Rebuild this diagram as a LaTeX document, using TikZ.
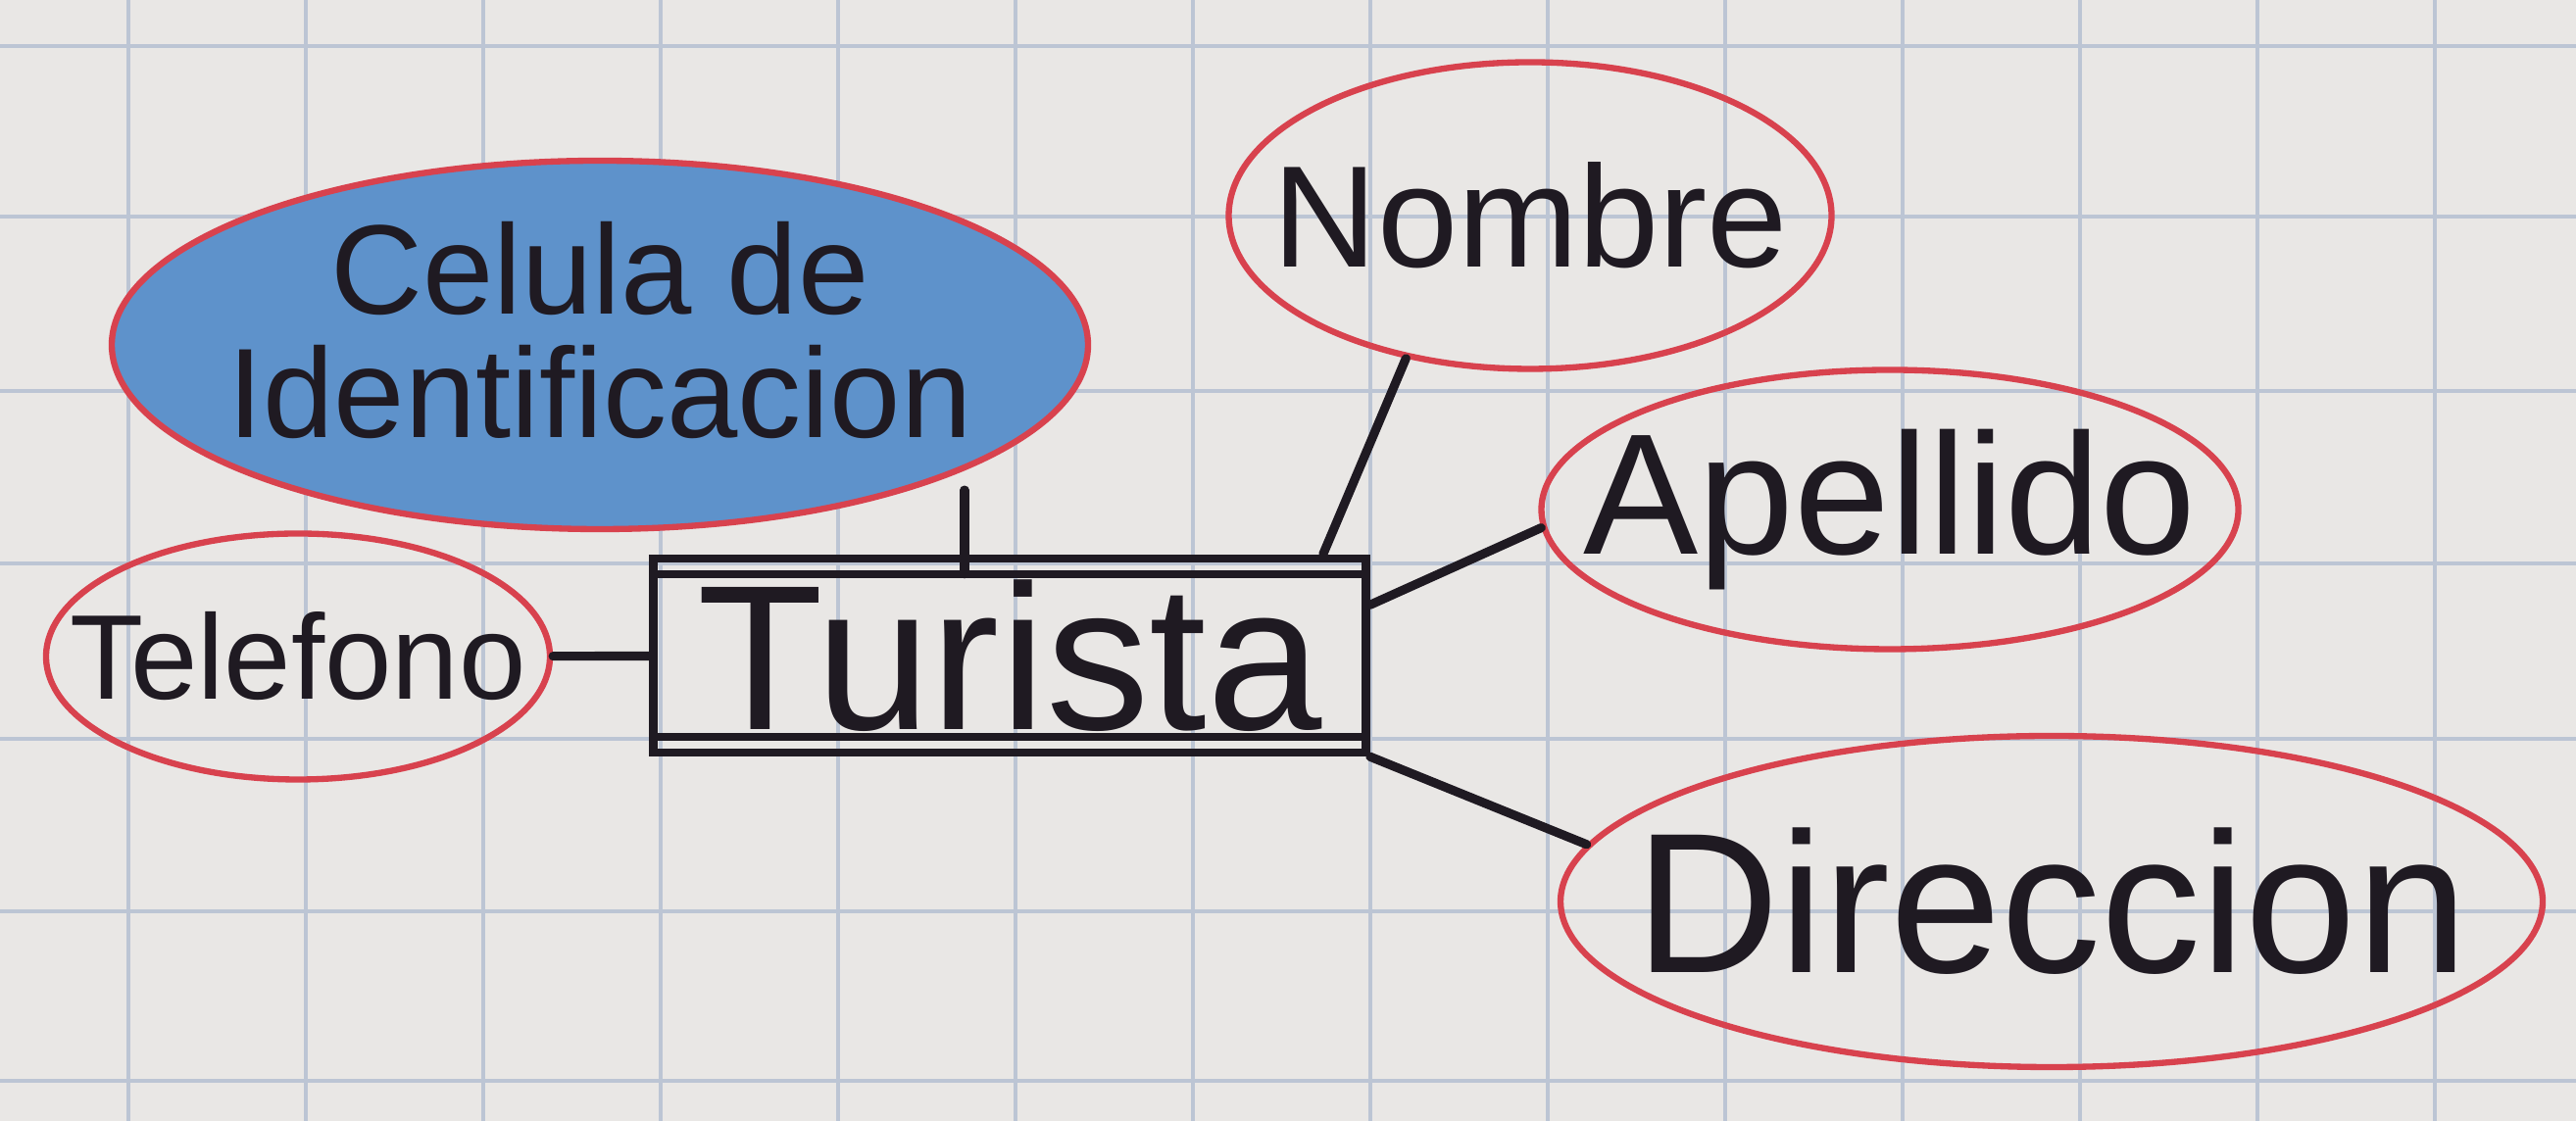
\documentclass[tikz,border=0pt]{standalone}
\usepackage{fontspec}
\setmainfont{Liberation Sans}
\usepackage{xcolor}
\usetikzlibrary{shapes.geometric}

\definecolor{paper}{HTML}{E9E7E5}
\definecolor{gridblue}{HTML}{BCC5D4}
\definecolor{pen}{HTML}{1F1A22}
\definecolor{redpen}{HTML}{D8424E}
\definecolor{crayon}{HTML}{5E92CB}

\begin{document}
\begin{tikzpicture}[
    attr/.style={ellipse, draw=redpen, line width=1.8pt, inner sep=0pt, text=pen},
    ent/.style={draw=pen, line width=2.4pt, inner sep=0pt, text=pen, minimum width=7.27cm, minimum height=1.98cm},
    link/.style={draw=pen, line width=2.6pt, line cap=round},
    gridline/.style={gridblue, line width=1.1pt}
]
    % paper with its grid
    \fill[paper] (0,0) rectangle (26.28,11.44);
    \useasboundingbox (0,0) rectangle (26.28,11.44);
    \foreach \x in {0,...,13}
        \draw[gridline] ({1.31+1.81*\x},0) -- ++(0,11.44);
    \foreach \y in {0.41,2.14,3.90,5.69,7.45,9.23,10.97}
        \draw[gridline] (0,\y) -- ++(26.28,0);

    \node[ent] (turista) at (10.30,4.75) {\fontsize{60}{60}\selectfont Turista};
    \node[attr, fill=crayon, minimum width=9.96cm, minimum height=3.76cm] (celula) at (6.12,7.92)
        {\makebox[0pt]{\raisebox{-2mm}{\fontsize{37}{30}\selectfont\begin{tabular}{@{}c@{}}Celula de\\Identificacion\end{tabular}}}};
    \node[attr, minimum width=6.15cm, minimum height=3.13cm] (nombre) at (15.61,9.24)
        {\makebox[0pt]{\fontsize{42}{42}\selectfont Nombre}};
    \node[attr, minimum width=7.11cm, minimum height=2.85cm] (apellido) at (19.28,6.24)
        {\makebox[0pt]{\fontsize{50}{50}\selectfont Apellido}};
    \node[attr, minimum width=5.14cm, minimum height=2.51cm] (telefono) at (3.04,4.74)
        {\makebox[0pt]{\fontsize{35}{35}\selectfont Telefono}};
    \node[attr, minimum width=10.02cm, minimum height=3.38cm] (direccion) at (20.93,2.24)
        {\makebox[0pt]{\fontsize{58}{58}\selectfont Direccion}};

    % second stroke of the box
    \draw[pen, line width=2.4pt] ([yshift=-2mm]turista.north west) -- ([yshift=-2mm]turista.north east);
    \draw[pen, line width=2.4pt] ([yshift=2mm]turista.south west) -- ([yshift=2mm]turista.south east);

    \draw[link] ([yshift=-2mm]celula.-19) -- ([yshift=-2mm]celula.-19 |- turista.north);
    \draw[link] (nombre.229) -- ([xshift=-4.8mm]turista.north east);
    \draw[link] (apellido.183) -- (turista.8);
    \draw[link] (telefono) -- (turista);
    \draw[link] (turista.south east) -- (direccion.173);
\end{tikzpicture}
\end{document}
